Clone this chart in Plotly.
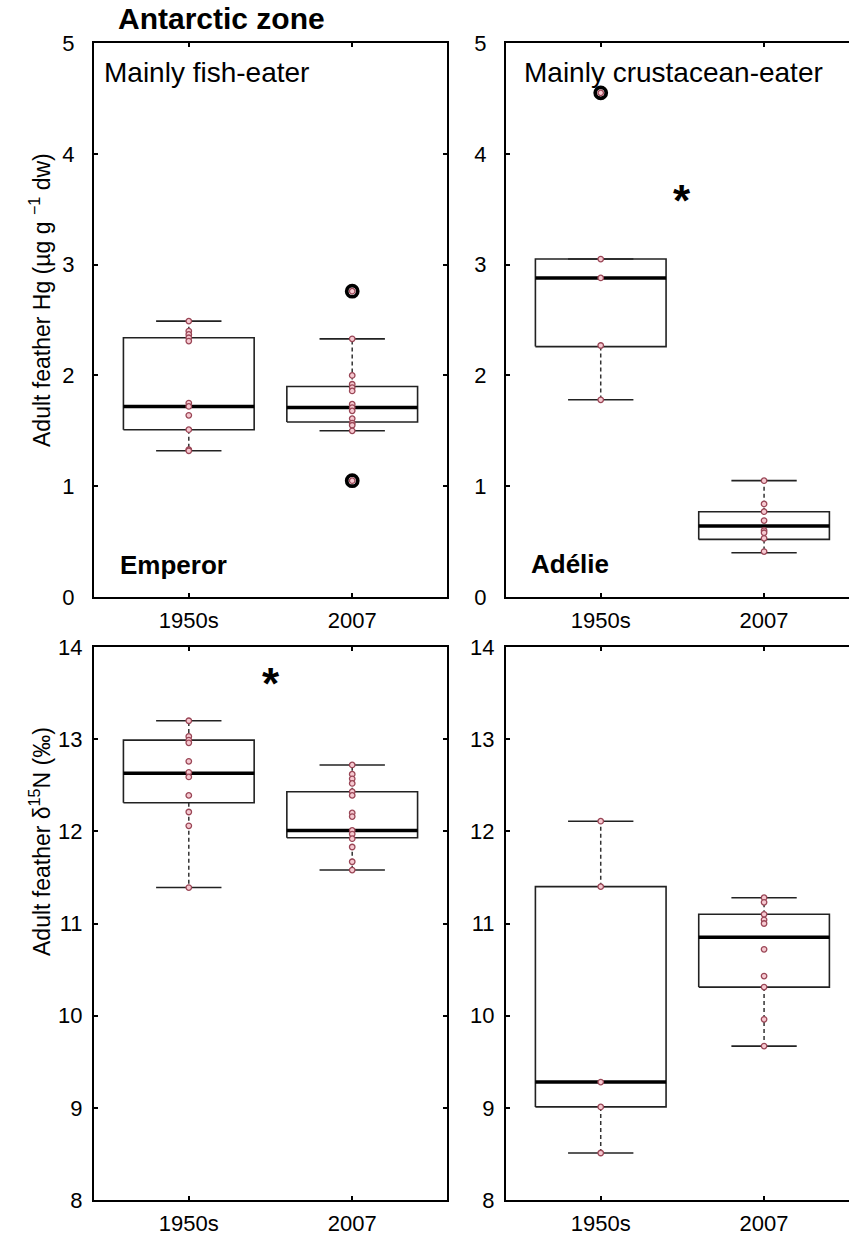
import plotly.graph_objects as go

W, H = 849, 1239

# ---------------- data ----------------
groups = ["1950s", "2007"]
group_pos = [1, 2]

# Panel A: Emperor Hg
emp_hg_pts = [
    [2.49, 2.40, 2.37, 2.34, 2.31, 1.75, 1.72, 1.64, 1.51, 1.33, 1.32],
    [2.76, 2.33, 2.00, 1.92, 1.89, 1.86, 1.74, 1.71, 1.68, 1.61, 1.57, 1.55, 1.50, 1.05],
]
emp_hg_stats = [  # lower whisker, q1, median, q3, upper whisker
    [1.32, 1.51, 1.72, 2.34, 2.49],
    [1.50, 1.58, 1.71, 1.90, 2.33],
]
emp_hg_out = [[], [2.76, 1.05]]

# Panel B: Adelie Hg
ade_hg_pts = [
    [4.55, 3.05, 2.88, 2.27, 1.78],
    [1.05, 0.84, 0.77, 0.69, 0.60, 0.58, 0.53, 0.41],
]
ade_hg_stats = [
    [1.78, 2.26, 2.88, 3.05, 3.05],
    [0.40, 0.52, 0.64, 0.77, 1.05],
]
ade_hg_out = [[4.55], []]

# Panel C: Emperor d15N
emp_n_pts = [
    [13.20, 13.03, 12.99, 12.96, 12.76, 12.64, 12.59, 12.39, 12.21, 12.06, 11.39],
    [12.72, 12.62, 12.57, 12.52, 12.43, 12.39, 12.20, 12.16, 12.01, 11.97, 11.92, 11.83, 11.67, 11.58],
]
emp_n_stats = [
    [11.39, 12.31, 12.63, 12.99, 13.20],
    [11.58, 11.93, 12.01, 12.43, 12.72],
]
emp_n_out = [[], []]

# Panel D: Adelie d15N
ade_n_pts = [
    [12.11, 11.40, 9.28, 9.01, 8.51],
    [11.28, 11.23, 11.10, 11.04, 11.00, 10.72, 10.43, 10.31, 9.96, 9.67],
]
ade_n_stats = [
    [8.51, 9.01, 9.28, 11.40, 12.11],
    [9.67, 10.31, 10.85, 11.10, 11.28],
]
ade_n_out = [[], []]

hg_ticks = [0, 1, 2, 3, 4, 5]
n_ticks = [8, 9, 10, 11, 12, 13, 14]

# significance stars (x, y) in data units
star_hg_ade = (1.5, 3.58)
star_n_emp = (1.5, 13.60)

# ---------------- styling ----------------
FONT = "Liberation Sans, Arial, sans-serif"
PT_FILL = "#f6c9d1"
PT_LINE = "#9a4656"
BOX_COL = "#222222"

def px_x(p):
    return p / W

def px_y(p):
    return 1 - p / H

fig = go.Figure()

def add_panel(xa, ya, pts, stats, outs):
    bx, by, mx, my, wx, wy, cx, cy = [], [], [], [], [], [], [], []
    hw, cw = 0.4, 0.2
    for p, (lo, q1, md, q3, hi) in zip(group_pos, stats):
        bx += [p - hw, p + hw, p + hw, p - hw, p - hw, None]
        by += [q1, q1, q3, q3, q1, None]
        mx += [p - hw, p + hw, None]
        my += [md, md, None]
        wx += [p, p, None, p, p, None]
        wy += [q3, hi, None, q1, lo, None]
        cx += [p - cw, p + cw, None, p - cw, p + cw, None]
        cy += [hi, hi, None, lo, lo, None]
    common = dict(xaxis=xa, yaxis=ya, showlegend=False, hoverinfo="skip", mode="lines")
    fig.add_trace(go.Scatter(x=wx, y=wy, line=dict(color="#333333", width=1.5, dash="4px,3px"), **common))
    fig.add_trace(go.Scatter(x=cx, y=cy, line=dict(color=BOX_COL, width=1.6), **common))
    fig.add_trace(go.Scatter(x=bx, y=by, line=dict(color=BOX_COL, width=1.6), **common))
    fig.add_trace(go.Scatter(x=mx, y=my, line=dict(color="black", width=3.5), **common))
    ox, oy = [], []
    for p, o in zip(group_pos, outs):
        ox += [p] * len(o)
        oy += o
    if ox:
        fig.add_trace(go.Scatter(x=ox, y=oy, xaxis=xa, yaxis=ya, mode="markers", showlegend=False,
                                 marker=dict(size=11, color="rgba(0,0,0,0)",
                                             line=dict(color="black", width=3.8))))
    px, py = [], []
    for p, vals in zip(group_pos, pts):
        px += [p] * len(vals)
        py += vals
    fig.add_trace(go.Scatter(x=px, y=py, xaxis=xa, yaxis=ya, mode="markers", showlegend=False,
                             marker=dict(size=5.5, color=PT_FILL, line=dict(color=PT_LINE, width=1.3))))

add_panel("x", "y", emp_hg_pts, emp_hg_stats, emp_hg_out)
add_panel("x2", "y2", ade_hg_pts, ade_hg_stats, ade_hg_out)
add_panel("x3", "y3", emp_n_pts, emp_n_stats, emp_n_out)
add_panel("x4", "y4", ade_n_pts, ade_n_stats, ade_n_out)

X_L = [px_x(94), px_x(447)]
X_R = [px_x(506), 1.0]
Y_T = [px_y(597), px_y(43)]
Y_B = [px_y(1200), px_y(647)]

def xax(domain, anchor, rng, mirror=True):
    return dict(domain=domain, anchor=anchor, range=rng, tickvals=group_pos, ticktext=groups,
                ticks="inside", ticklen=4, tickwidth=2, tickcolor="black",
                showline=True, linewidth=2, linecolor="black", mirror="allticks" if mirror else False,
                showgrid=False, zeroline=False, ticklabelstandoff=3, automargin=False,
                tickfont=dict(family=FONT, size=22, color="black"), fixedrange=True)

def yax(domain, anchor, rng, tv, mirror=True, standoff=14):
    return dict(domain=domain, anchor=anchor, range=rng, tickvals=tv,
                ticks="inside", ticklen=4, tickwidth=2, tickcolor="black",
                showline=True, linewidth=2, linecolor="black", mirror="allticks" if mirror else False,
                showgrid=False, zeroline=False, ticklabelstandoff=standoff, automargin=False,
                tickfont=dict(family=FONT, size=22, color="black"), fixedrange=True)

fig.update_layout(
    width=W, height=H, margin=dict(l=0, r=0, t=0, b=0, autoexpand=False),
    paper_bgcolor="white", plot_bgcolor="white",
    xaxis=xax(X_L, "y", [0.42, 2.58]),
    yaxis=yax(Y_T, "x", [0, 5], hg_ticks, standoff=13),
    xaxis2=xax(X_R, "y2", [0.42, 2.52]),
    yaxis2=yax(Y_T, "x2", [0, 5], hg_ticks, mirror=False, standoff=13),
    xaxis3=xax(X_L, "y3", [0.42, 2.58]),
    yaxis3=yax(Y_B, "x3", [8, 14], n_ticks, standoff=5),
    xaxis4=xax(X_R, "y4", [0.42, 2.52]),
    yaxis4=yax(Y_B, "x4", [8, 14], n_ticks, mirror=False, standoff=5),
)

ann = []
def txt(text, x, y, size, bold=False, xanchor="left", angle=0, xref="paper", yref="paper"):
    ann.append(dict(text=text, x=x, y=y, xref=xref, yref=yref, xanchor=xanchor, yanchor="middle",
                    showarrow=False, textangle=angle,
                    font=dict(family=FONT, size=size, color="black", weight="bold" if bold else "normal")))

txt("Antarctic zone", px_x(116), px_y(18), 30, bold=True)
txt("Mainly fish-eater", px_x(102), px_y(72), 28)
txt("Mainly crustacean-eater", px_x(522), px_y(72), 28)
txt("Emperor", px_x(118), px_y(565), 26, bold=True)
txt("Adélie", px_x(529), px_y(564), 26, bold=True)
txt("Adult feather Hg (µg g <sup>−1</sup> dw)", px_x(40), px_y(300), 23, angle=-90, xanchor="center")
txt("Adult feather δ<sup>15</sup>N (‰)", px_x(40), px_y(842), 23, angle=-90, xanchor="center")
txt("*", star_hg_ade[0], star_hg_ade[1], 44, bold=True, xanchor="center", xref="x2", yref="y2")
txt("*", star_n_emp[0], star_n_emp[1], 44, bold=True, xanchor="center", xref="x3", yref="y3")
fig.update_layout(annotations=ann)

fig.write_html("out.html", config={"displayModeBar": False})

# remove the default page margin so the figure sits at the window origin
with open("out.html", "r", encoding="utf-8") as f:
    html = f.read()
html = html.replace("<head>", "<head><style>html,body{margin:0;padding:0;overflow:hidden;}</style>", 1)
with open("out.html", "w", encoding="utf-8") as f:
    f.write(html)
